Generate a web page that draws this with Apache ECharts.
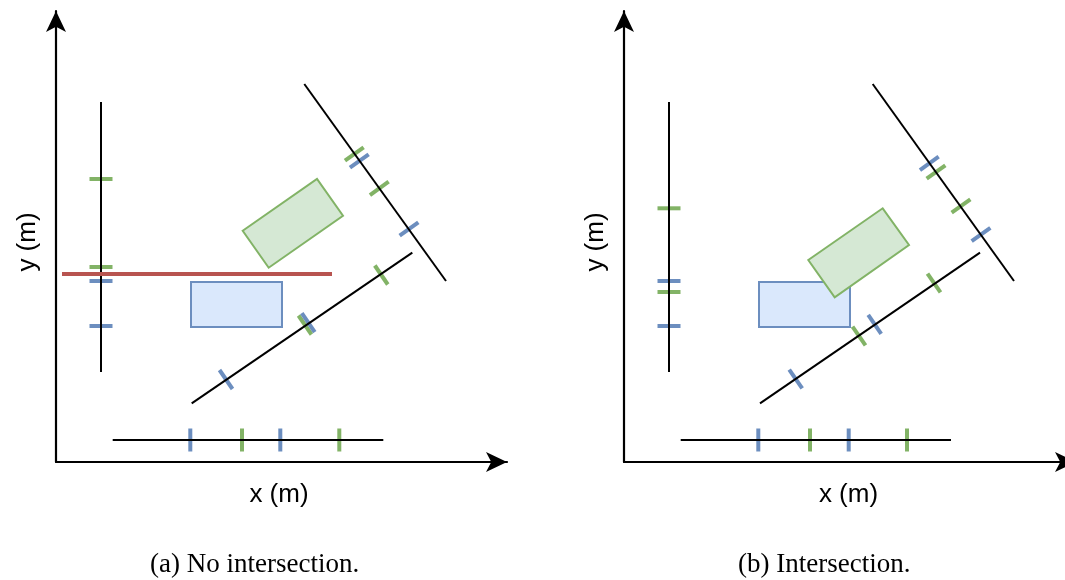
<!DOCTYPE html>
<html>
<head>
<meta charset="utf-8">
<script src="https://cdn.jsdelivr.net/npm/echarts@6/dist/echarts.min.js"></script>
<style>
  html, body { margin: 0; padding: 0; background: #fff; }
  #chart { width: 1065px; height: 580px; }
</style>
</head>
<body>
<div id="chart"></div>
<script>
// Separating-axis illustration: two boxes, their projections on the x, y
// and box-normal axes. Coordinates are in metres from each panel's origin.

const captions = ['(a) No intersection.', '(b) Intersection.'];
const axisNames = ['x (m)', 'y (m)'];

// ---- panel (a): the boxes are separated ----
const blueBoxA = [[13.5, 13.5], [22.6, 13.5], [22.6, 18.0], [13.5, 18.0]];
const greenBoxA = [[18.67, 23.13], [26.1, 28.3], [28.7, 24.63], [21.27, 19.43]];
const xProjA = [[5.67, 2.2], [32.73, 2.2]];
const yProjA = [[4.5, 9.0], [4.5, 36.0]];
const uProjA = [[13.57, 5.87], [35.63, 20.93]];
const vProjA = [[24.83, 37.8], [39.0, 18.1]];
const separatorA = [[0.6, 18.8], [27.6, 18.8]];
// projection marks: [x, y, projection line (0 = x, 1 = y, 2 = u, 3 = v)]
const blueMarksA = [
  [13.43, 2.2, 0], [22.43, 2.2, 0],
  [4.5, 13.6, 1], [4.5, 18.1, 1],
  [17.0, 8.25, 2], [25.23, 13.93, 2],
  [30.33, 30.1, 3], [35.3, 23.3, 3]
];
const greenMarksA = [
  [18.6, 2.2, 0], [28.33, 2.2, 0],
  [4.5, 19.5, 1], [4.5, 28.3, 1],
  [24.9, 13.7, 2], [32.53, 18.7, 2],
  [29.83, 30.8, 3], [32.33, 27.37, 3]
];

// ---- panel (b): the boxes overlap ----
const blueBoxB = [[13.5, 13.5], [22.6, 13.5], [22.6, 18.0], [13.5, 18.0]];
const greenBoxB = [[18.43, 20.2], [25.87, 25.37], [28.5, 21.7], [21.07, 16.47]];
const xProjB = [[5.67, 2.2], [32.7, 2.2]];
const yProjB = [[4.5, 9.0], [4.5, 36.0]];
const uProjB = [[13.6, 5.87], [35.6, 20.93]];
const vProjB = [[24.87, 37.8], [39.0, 18.1]];
const blueMarksB = [
  [13.43, 2.2, 0], [22.47, 2.2, 0],
  [4.5, 13.6, 1], [4.5, 18.1, 1],
  [17.17, 8.3, 2], [25.07, 13.77, 2],
  [30.53, 29.87, 3], [35.7, 22.75, 3]
];
const greenMarksB = [
  [18.6, 2.2, 0], [28.3, 2.2, 0],
  [4.5, 17.0, 1], [4.5, 25.37, 1],
  [23.5, 12.6, 2], [31.0, 17.9, 2],
  [31.2, 29.0, 3], [33.7, 25.6, 3]
];

const BLUE = '#6c8ebf', BLUE_FILL = '#dae8fc';
const GREEN = '#82b366', GREEN_FILL = '#d5e8d4';
const RED = '#b85450';
const SANS = '"Liberation Sans", Arial, sans-serif';
const SERIF = '"Liberation Serif", "Times New Roman", serif';

// the right panel's x axis runs to the page edge; its arrow sits just past it
const panels = [
  { left: 56, width: 451, xMax: 45.1, arrowShift: 0, namePad: [0, 5, 0, 0],
    blue: blueBoxA, green: greenBoxA, lines: [xProjA, yProjA, uProjA, vProjA],
    blueMarks: blueMarksA, greenMarks: greenMarksA, separator: separatorA },
  { left: 624, width: 441, xMax: 44.1, arrowShift: 11, namePad: [0, 0, 0, 8],
    blue: blueBoxB, green: greenBoxB, lines: [xProjB, yProjB, uProjB, vProjB],
    blueMarks: blueMarksB, greenMarks: greenMarksB, separator: null }
];

const nameStyle = { fontFamily: SANS, fontSize: 26, color: '#000' };
function axisLine(shift) {
  return {
    show: true, onZero: false,
    symbol: ['none', 'arrow'], symbolSize: [15, 21], symbolOffset: [0, shift],
    lineStyle: { color: '#000', width: 2.2 }
  };
}

function boxSeries(idx, box, stroke, fill) {
  return {
    type: 'custom', xAxisIndex: idx, yAxisIndex: idx, silent: true,
    data: [box.flat()],
    renderItem: function (params, api) {
      const pts = [];
      for (let i = 0; i < 4; i++) pts.push(api.coord([api.value(2 * i), api.value(2 * i + 1)]));
      return { type: 'polygon', shape: { points: pts },
               style: { fill: fill, stroke: stroke, lineWidth: 2 } };
    }
  };
}

function lineSeries(idx, pts, color, width) {
  return {
    type: 'line', xAxisIndex: idx, yAxisIndex: idx, silent: true,
    data: pts, symbol: 'none', showSymbol: false,
    lineStyle: { color: color, width: width }
  };
}

// short marks drawn across a projection line, at the projected corners
function markSeries(idx, marks, lines, color) {
  return {
    type: 'custom', xAxisIndex: idx, yAxisIndex: idx, silent: true,
    data: marks,
    renderItem: function (params, api) {
      const c = api.coord([api.value(0), api.value(1)]);
      const ln = lines[api.value(2)];
      const p0 = api.coord(ln[0]), p1 = api.coord(ln[1]);
      let dx = p1[0] - p0[0], dy = p1[1] - p0[1];
      const len = Math.hypot(dx, dy);
      dx /= len; dy /= len;
      const h = 11.5;
      return { type: 'line',
               shape: { x1: c[0] + dy * h, y1: c[1] - dx * h, x2: c[0] - dy * h, y2: c[1] + dx * h },
               style: { stroke: color, lineWidth: 4 } };
    }
  };
}

const grids = [], xAxes = [], yAxes = [], series = [];
panels.forEach(function (p, i) {
  grids.push({ left: p.left, top: 11, width: p.width, height: 451 });
  xAxes.push({
    type: 'value', gridIndex: i, min: 0, max: p.xMax,
    name: axisNames[0], nameLocation: 'middle', nameGap: 20,
    nameTextStyle: Object.assign({ padding: p.namePad }, nameStyle),
    axisLine: axisLine(p.arrowShift), axisTick: { show: false }, axisLabel: { show: false },
    splitLine: { show: false }
  });
  yAxes.push({
    type: 'value', gridIndex: i, min: 0, max: 45.1,
    name: axisNames[1], nameLocation: 'middle', nameGap: 15,
    nameTextStyle: Object.assign({ padding: [0, 11, 0, 0] }, nameStyle),
    axisLine: axisLine(0), axisTick: { show: false }, axisLabel: { show: false },
    splitLine: { show: false }
  });
  series.push(boxSeries(i, p.blue, BLUE, BLUE_FILL));
  series.push(boxSeries(i, p.green, GREEN, GREEN_FILL));
  p.lines.forEach(function (ln) { series.push(lineSeries(i, ln, '#000', 2)); });
  if (p.separator) series.push(lineSeries(i, p.separator, RED, 4));
  series.push(markSeries(i, p.greenMarks, p.lines, GREEN));
  series.push(markSeries(i, p.blueMarks, p.lines, BLUE));
});

const chart = echarts.init(document.getElementById('chart'), null, { renderer: 'canvas' });
chart.setOption({
  backgroundColor: '#fff',
  animation: false,
  grid: grids,
  xAxis: xAxes,
  yAxis: yAxes,
  series: series,
  graphic: [
    { type: 'text', left: 150, top: 551,
      style: { text: captions[0], font: '27px ' + SERIF, fill: '#000' } },
    { type: 'text', left: 738, top: 551,
      style: { text: captions[1], font: '27px ' + SERIF, fill: '#000' } }
  ]
});
</script>
</body>
</html>
